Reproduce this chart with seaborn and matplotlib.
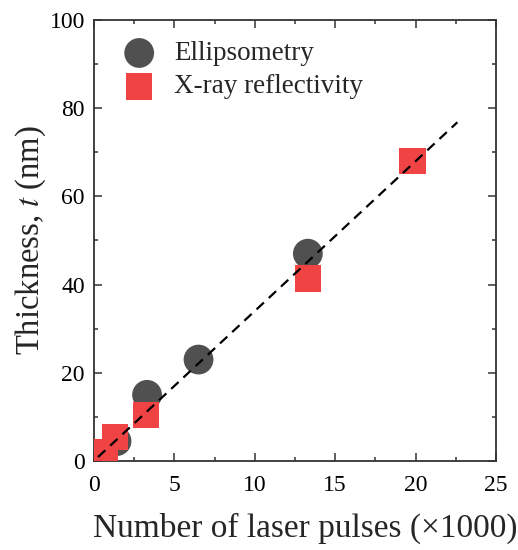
import matplotlib
matplotlib.use("Agg")
import matplotlib.pyplot as plt
import seaborn as sns
import pandas as pd
from matplotlib.ticker import MultipleLocator

# Data
ell_x = [1.4, 3.3, 6.5, 13.3]
ell_y = [4.5, 15.0, 23.0, 47.0]
xrr_x = [0.7, 1.3, 3.25, 13.3, 19.8]
xrr_y = [2.0, 5.5, 10.4, 41.4, 68.0]
fit_x = [0.25, 22.6]
fit_y = [0.9, 76.8]

sns.set_style("ticks")
plt.rcParams['font.family'] = ['Liberation Serif', 'DejaVu Serif']
plt.rcParams['mathtext.fontset'] = 'stix'

fig = plt.figure(figsize=(5.18, 5.5), dpi=100)
ax = fig.add_axes([0.1815, 0.1618, 0.776, 0.802])

ell = pd.DataFrame({"x": ell_x, "y": ell_y})
xrr = pd.DataFrame({"x": xrr_x, "y": xrr_y})
fit = pd.DataFrame({"x": fit_x, "y": fit_y})

sns.scatterplot(data=ell, x="x", y="y", ax=ax, marker="o", s=460,
                color="#505050", edgecolor="none", linewidth=0,
                label="Ellipsometry", zorder=2)
sns.scatterplot(data=xrr, x="x", y="y", ax=ax, marker="s", s=360,
                color="#f04444", edgecolor="none", linewidth=0,
                label="X-ray reflectivity", zorder=3)
sns.lineplot(data=fit, x="x", y="y", ax=ax, color="black", linewidth=1.6,
             zorder=4)
ax.lines[-1].set_linestyle((0, (4.5, 3.0)))

ax.set_xlim(0, 25)
ax.set_ylim(0, 100)
ax.xaxis.set_major_locator(MultipleLocator(5))
ax.xaxis.set_minor_locator(MultipleLocator(2.5))
ax.yaxis.set_major_locator(MultipleLocator(20))
ax.yaxis.set_minor_locator(MultipleLocator(10))
ax.tick_params(which="both", direction="in", top=True, right=True,
               width=1.1, colors="#333333", labelcolor="black")
ax.tick_params(which="major", length=6, labelsize=17)
ax.tick_params(axis="x", which="major", pad=10)
ax.tick_params(axis="y", which="major", pad=6.5)
ax.tick_params(which="minor", length=3)
for sp in ax.spines.values():
    sp.set_visible(True)
    sp.set_linewidth(1.3)
    sp.set_color("#333333")

ax.set_xlabel("Number of laser pulses (\u00d71000)", fontsize=24)
ax.xaxis.set_label_coords(0.525, -0.117)
ax.set_ylabel("Thickness, $\\mathit{t}$ (nm)", fontsize=23.5, labelpad=1)

leg = ax.legend(loc="upper left", frameon=False, fontsize=19.5,
                handletextpad=0.3, borderaxespad=0.0, labelspacing=0.31,
                borderpad=0.0, bbox_to_anchor=(0.045, 0.952))

fig.savefig("out.png", dpi=100)
